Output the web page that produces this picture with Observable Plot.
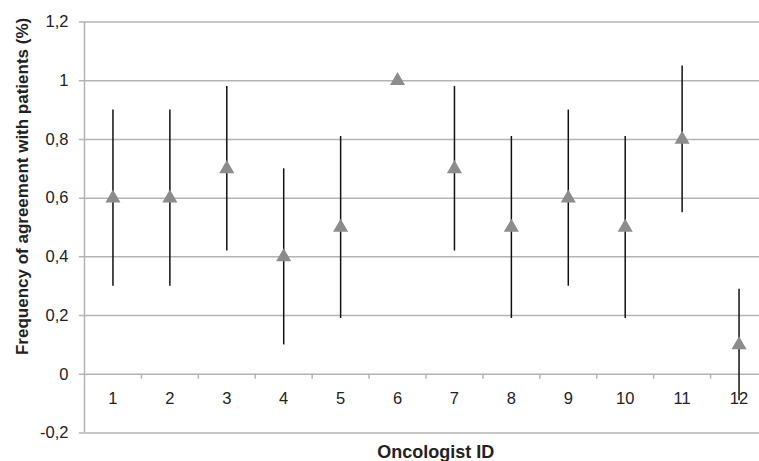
<!DOCTYPE html>
<html>
<head>
<meta charset="utf-8">
<script src="https://cdn.jsdelivr.net/npm/d3@7"></script>
<script src="https://cdn.jsdelivr.net/npm/@observablehq/plot@0.6"></script>
<style>
  html, body { margin: 0; padding: 0; background: #fff; }
  #chart svg { display: block; }
</style>
</head>
<body>
<div id="chart"></div>
<script>
const ids = [1, 2, 3, 4, 5, 6, 7, 8, 9, 10, 11, 12];
const freq = [0.6, 0.6, 0.7, 0.4, 0.5, 1.0, 0.7, 0.5, 0.6, 0.5, 0.8, 0.1];
const lows = [0.30, 0.30, 0.42, 0.10, 0.19, null, 0.42, 0.19, 0.30, 0.19, 0.55, -0.09];
const highs = [0.90, 0.90, 0.98, 0.70, 0.81, null, 0.98, 0.81, 0.90, 0.81, 1.05, 0.29];
const yTicks = [-0.2, 0, 0.2, 0.4, 0.6, 0.8, 1, 1.2];
const xBoundaries = [1.5, 2.5, 3.5, 4.5, 5.5, 6.5, 7.5, 8.5, 9.5, 10.5, 11.5];
const yTitle = "Frequency of agreement with patients (%)";
const xTitle = "Oncologist ID";

const data = ids.map((id, i) => ({id, freq: freq[i], low: lows[i], high: highs[i]}));
const bars = data.filter(d => d.low != null);

const fmt = v => (v === 0 ? "0" : String(v).replace(".", ","));
const grid = "#b4b4b4";
const font = "'Liberation Sans', Arial, sans-serif";

const chart = Plot.plot({
  width: 759,
  height: 461,
  marginLeft: 84,
  marginRight: 0,
  marginTop: 21.5,
  marginBottom: 28.5,
  style: {fontFamily: font, background: "#fff", overflow: "visible"},
  x: {type: "linear", domain: [0.5, 12.5], range: [84, 767], axis: null},
  y: {type: "linear", domain: [-0.2, 1.2], axis: null},
  marks: [
    // horizontal gridlines with small outward ticks
    Plot.ruleY(yTicks, {y: d => d, x1: 0.41, x2: 12.5, stroke: grid, strokeWidth: 1.5}),
    // left border
    Plot.ruleX([0.5], {x: d => d, y1: -0.2, y2: 1.2, stroke: grid, strokeWidth: 1.5}),
    // category ticks below zero line
    Plot.ruleX(xBoundaries, {x: d => d, y1: 0, y2: -0.017, stroke: grid, strokeWidth: 1.5}),
    // y tick labels
    Plot.text(yTicks, {x: 0.5, y: d => d, text: fmt, dx: -16, textAnchor: "end", fontSize: 16.5, fill: "#222"}),
    // x tick labels
    Plot.text(ids, {x: d => d, y: 0, text: d => String(d), dy: 24, fontSize: 16.5, fill: "#222"}),
    // error bars
    Plot.ruleX(bars, {x: "id", y1: "low", y2: "high", stroke: "#111", strokeWidth: 1.5}),
    // points
    Plot.dot(data, {x: "id", y: "freq", symbol: "triangle", r: 5.6, fill: "#8c8c8c", stroke: "none"}),
    // axis titles
    Plot.text([xTitle], {x: 6.67, y: -0.2, dy: 19.5, text: d => d, fontSize: 18, fontWeight: "bold", fill: "#222"}),
    Plot.text([yTitle], {x: 0.5, y: 0.64, dx: -62, text: d => d, rotate: -90, fontSize: 17, fontWeight: "bold", fill: "#222"})
  ]
});
document.getElementById("chart").appendChild(chart);
</script>
</body>
</html>
